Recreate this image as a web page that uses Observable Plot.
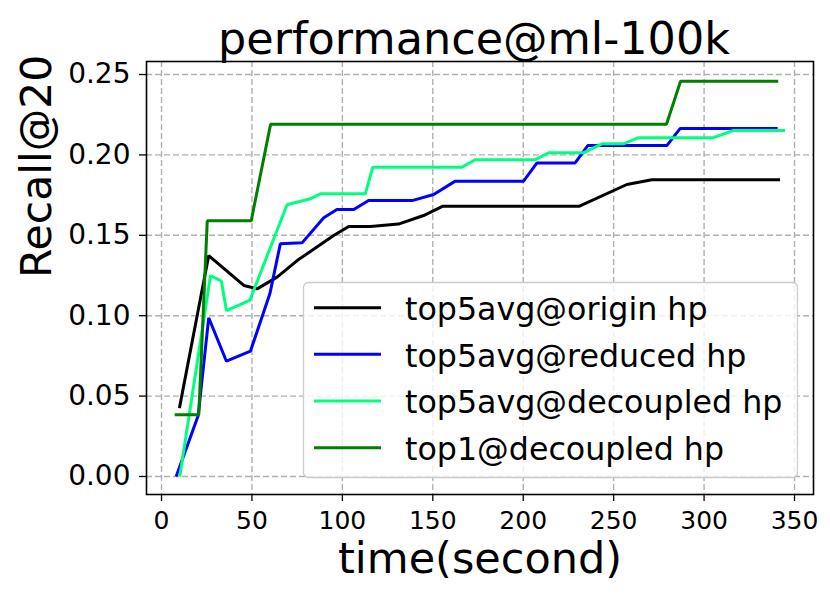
<!DOCTYPE html>
<html>
<head>
<meta charset="utf-8">
<script src="https://cdn.jsdelivr.net/npm/d3@7"></script>
<script src="https://cdn.jsdelivr.net/npm/@observablehq/plot@0.6"></script>
<style>
  html, body { margin: 0; padding: 0; background: white; }
  #chart { position: relative; width: 830px; height: 599px; }
</style>
</head>
<body>
<div id="chart"></div>
<script>
// ---- data ----
const titleText = "performance@ml-100k";
const xLabel = "time(second)";
const yLabel = "Recall@20";

const seriesNames = ["top5avg@origin hp", "top5avg@reduced hp", "top5avg@decoupled hp", "top1@decoupled hp"];
const seriesColors = ["#000000", "#0000ff", "#00ff7f", "#008000"];

const originT = [9.9, 26.1, 45.5, 52.9, 63.9, 75.0, 95.2, 103.5, 115.5, 131.0, 144.9, 155.6, 231.1, 257.3, 271.1, 342.0];
const originV = [0.0425, 0.1374, 0.1188, 0.1167, 0.124, 0.1343, 0.1499, 0.1555, 0.1555, 0.157, 0.1623, 0.1681, 0.1681, 0.1816, 0.1845, 0.1845];

const reducedT = [8.1, 20.3, 26.1, 35.9, 49.2, 59.9, 65.7, 77.7, 89.7, 97.0, 106.3, 114.5, 138.5, 150.5, 162.4, 200.2, 207.6, 228.7, 235.7, 279.4, 286.7, 340.7];
const reducedV = [0, 0.038, 0.0987, 0.0717, 0.078, 0.1136, 0.1447, 0.1453, 0.1609, 0.166, 0.166, 0.1716, 0.1716, 0.1754, 0.1837, 0.1837, 0.195, 0.195, 0.2058, 0.2058, 0.2164, 0.2164];

const decoupledT = [10.1, 27.1, 33.1, 35.9, 48.8, 69.4, 82.3, 87.8, 112.7, 116.8, 166.1, 173.5, 206.6, 214.0, 233.3, 243.5, 255.4, 263.7, 305.2, 316.2, 344.8];
const decoupledV = [0, 0.125, 0.1215, 0.1032, 0.1095, 0.169, 0.1727, 0.1758, 0.1758, 0.1924, 0.1924, 0.197, 0.197, 0.2013, 0.2013, 0.2069, 0.2069, 0.2107, 0.2107, 0.2152, 0.2152];

const top1T = [7.3, 20.6, 25.3, 49.6, 60.3, 279.2, 287.0, 341.0];
const top1V = [0.0384, 0.0384, 0.159, 0.159, 0.219, 0.219, 0.2458, 0.2458];

const xTicks = [0, 50, 100, 150, 200, 250, 300, 350];
const yTicks = [0, 0.05, 0.10, 0.15, 0.20, 0.25];

// ---- build table ----
const allT = [originT, reducedT, decoupledT, top1T];
const allV = [originV, reducedV, decoupledV, top1V];
const rows = [];
allT.forEach((ts, i) => ts.forEach((t, j) => rows.push({series: seriesNames[i], t, v: allV[i][j]})));

const W = 830, H = 599;
const mL = 146, mR = 17, mT = 61, mB = 105;

const gridStyle = {stroke: "#b0b0b0", strokeOpacity: 1, strokeWidth: 1.4, strokeDasharray: "6,3"};

const plot = Plot.plot({
  width: W,
  height: H,
  marginLeft: mL,
  marginRight: mR,
  marginTop: mT,
  marginBottom: mB,
  style: {fontFamily: "DejaVu Sans", background: "white", color: "black", overflow: "visible"},
  x: {domain: [-8.3, 360.5]},
  y: {domain: [-0.0112, 0.2581]},
  color: {domain: seriesNames, range: seriesColors},
  marks: [
    Plot.gridX({ticks: xTicks, ...gridStyle}),
    Plot.gridY({ticks: yTicks, ...gridStyle}),
    Plot.line(rows, {x: "t", y: "v", z: "series", stroke: "series", strokeWidth: 3, strokeLinejoin: "miter", strokeLinecap: "butt"}),
    Plot.frame({stroke: "black", strokeWidth: 1.6}),
    Plot.axisX({ticks: xTicks, tickSize: 7, tickPadding: 10, fontSize: 25, label: null, strokeWidth: 1.3}),
    Plot.axisY({ticks: yTicks, tickFormat: d3.format(".2f"), tickSize: 7, tickPadding: 9, fontSize: 28, label: null, strokeWidth: 1.3}),
    Plot.text([titleText], {frameAnchor: "top", dx: -6, dy: -8, lineAnchor: "bottom", fontSize: 44.5, fill: "black"}),
    Plot.text([xLabel], {frameAnchor: "bottom", dy: 78, lineAnchor: "bottom", fontSize: 43, fill: "black"}),
    Plot.text([yLabel], {frameAnchor: "left", dx: -96, rotate: -90, lineAnchor: "bottom", fontSize: 42.5, fill: "black"})
  ]
});

document.getElementById("chart").appendChild(plot);

// ---- legend (matplotlib-style box, upper-left at 303,282) ----
const svg = d3.select(plot);
const lg = svg.append("g").attr("font-family", "DejaVu Sans").attr("text-anchor", "start");
lg.append("rect")
  .attr("x", 303.5).attr("y", 282.5).attr("width", 494).attr("height", 195)
  .attr("rx", 5).attr("ry", 5)
  .attr("fill", "white").attr("fill-opacity", 0.8)
  .attr("stroke", "#cccccc").attr("stroke-width", 1.3);
const rowY = [307.7, 354.3, 401, 447.7];
seriesNames.forEach((name, i) => {
  lg.append("line")
    .attr("x1", 314).attr("x2", 381)
    .attr("y1", rowY[i]).attr("y2", rowY[i])
    .attr("stroke", seriesColors[i]).attr("stroke-width", 3);
  lg.append("text")
    .attr("x", 405).attr("y", rowY[i] + 12.3)
    .attr("text-anchor", "start")
    .attr("font-size", 31.7).attr("fill", "black")
    .text(name);
});
</script>
</body>
</html>
